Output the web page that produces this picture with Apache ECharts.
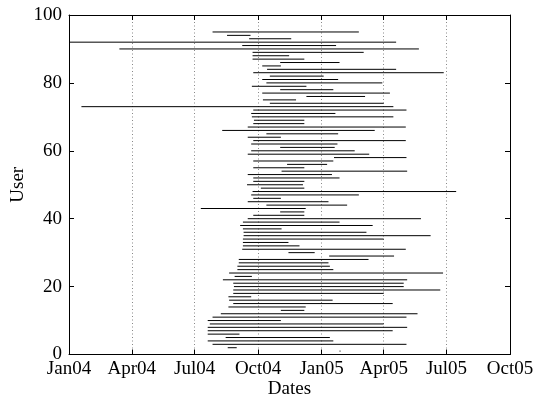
<!DOCTYPE html>
<html>
<head>
<meta charset="utf-8">
<script src="https://cdn.jsdelivr.net/npm/echarts@6/dist/echarts.min.js"></script>
<style>html,body{margin:0;padding:0;background:#fff}#c{width:535px;height:401px}</style>
</head>
<body>
<div id="c"></div>
<script>
// User ids (row index on the y axis)
const users = [];
for (let i = 1; i <= 95; i++) users.push(i);
// Start date of each user's activity (user 1 .. 95)
const starts = [
'2005-01-27','2004-08-18','2004-07-27','2004-07-20','2004-08-15','2004-07-20','2004-07-20','2004-07-20','2004-07-23','2004-07-20',
'2004-07-27','2004-08-08','2004-11-03','2004-08-19','2004-08-26','2004-08-20','2004-08-19','2004-08-26','2004-08-26','2004-08-27',
'2004-08-26','2004-08-11','2004-08-28','2004-08-20','2004-09-01','2004-09-01','2004-09-03','2004-09-03','2005-01-12','2004-11-14',
'2004-09-08','2004-09-09','2004-09-09','2004-09-09','2004-09-10','2004-09-10','2004-09-09','2004-09-05','2004-09-09','2004-09-16',
'2004-09-24','2004-11-02','2004-07-10','2004-10-13','2004-09-16','2004-09-24','2004-09-21','2004-09-23','2004-10-05','2004-09-15',
'2004-09-24','2004-09-24','2004-09-16','2004-11-04','2004-09-24','2004-11-12','2004-09-24','2005-01-19','2004-09-16','2004-09-21',
'2004-11-02','2004-09-21','2004-09-24','2004-09-16','2004-10-13','2004-08-10','2004-09-16','2004-09-24','2004-09-25','2004-09-22',
'2004-09-21','2004-09-24','2004-01-19','2004-10-18','2004-10-08','2004-12-10','2004-10-07','2004-11-02','2004-09-22','2004-10-13',
'2004-10-07','2004-10-18','2004-09-24','2004-10-14','2004-10-07','2004-11-02','2004-09-23','2004-09-23','2004-09-23','2004-03-14',
'2004-09-08','2004-01-01','2004-09-18','2004-08-17','2004-07-27'
];
// End date of each user's activity (user 1 .. 95)
const ends = [
'2005-01-27','2004-08-31','2005-05-04','2005-01-18','2005-01-13','2004-09-04','2005-04-14','2005-05-05','2005-04-01','2004-11-03',
'2005-05-04','2005-05-20','2004-12-07','2004-12-09','2005-04-14','2005-01-17','2004-09-21','2005-04-01','2005-06-22','2005-04-30',
'2005-04-30','2005-05-05','2004-09-22','2005-06-26','2005-01-18','2005-01-13','2005-01-11','2005-03-10','2005-04-16','2004-12-22',
'2005-05-03','2004-11-30','2004-11-14','2005-04-01','2005-06-08','2005-03-07','2004-11-04','2005-03-16','2005-01-27','2005-05-25',
'2004-12-07','2004-12-07','2004-12-09','2005-02-07','2005-01-11','2004-11-03','2005-02-24','2005-07-15','2004-12-07','2004-12-05',
'2004-12-07','2005-01-27','2005-01-16','2005-05-05','2004-12-07','2005-01-09','2005-01-18','2005-05-04','2005-03-11','2005-02-18',
'2005-01-20','2005-01-24','2005-05-03','2004-11-03','2005-01-25','2005-03-19','2005-05-03','2004-12-07','2004-12-07','2005-04-15',
'2005-01-21','2005-05-04','2005-04-15','2005-04-01','2004-11-25','2005-03-05','2005-04-10','2005-01-18','2004-12-10','2005-03-30',
'2005-01-25','2005-01-04','2005-06-27','2005-04-19','2004-11-03','2005-01-27','2004-12-07','2004-11-15','2005-03-03','2005-05-22',
'2005-01-22','2005-04-19','2004-11-18','2004-09-20','2005-02-24'
];
// Axis ranges / ticks
const xMin = '2004-01-01', xMax = '2005-10-01';
const yMin = 0, yMax = 100, yStep = 20;
const monthNames = ['Jan','Feb','Mar','Apr','May','Jun','Jul','Aug','Sep','Oct','Nov','Dec'];

const parse = echarts.number.parseDate;
const data = users.map((u, i) => [parse(starts[i]).getTime(), parse(ends[i]).getTime(), u]);

const FONT = 'Liberation Serif';
const chart = echarts.init(document.getElementById('c'), null, {renderer: 'canvas'});
const axisLine = {show: true, onZero: false, lineStyle: {color: '#000', width: 1}};
const tick = {show: true, inside: true, length: 5, lineStyle: {color: '#000', width: 1}};
chart.setOption({
  animation: false,
  backgroundColor: '#fff',
  grid: {left: 69, right: 25, top: 15, bottom: 46.5, containLabel: false, outerBoundsMode: 'none'},
  xAxis: [{
    type: 'time', position: 'bottom', min: xMin, max: xMax, splitNumber: 7,
    axisLine: axisLine, axisTick: tick,
    axisLabel: {
      color: '#000', fontFamily: FONT, fontSize: 19, margin: 5,
      showMinLabel: true, showMaxLabel: true,
      formatter: function (v) { const d = new Date(v); return monthNames[d.getMonth()] + String(d.getFullYear()).slice(2); }
    },
    splitLine: {show: true, lineStyle: {color: '#888', width: 1, type: [1, 2.5]}},
    name: 'Dates', nameLocation: 'middle', nameGap: 25, nameMoveOverlap: false,
    nameTextStyle: {color: '#000', fontFamily: FONT, fontSize: 19}
  }, {
    type: 'time', position: 'top', min: xMin, max: xMax, splitNumber: 7,
    axisLine: axisLine, axisTick: tick, axisLabel: {show: false}, splitLine: {show: false}
  }],
  yAxis: [{
    type: 'value', position: 'left', min: yMin, max: yMax, interval: yStep,
    axisLine: axisLine, axisTick: tick,
    axisLabel: {color: '#000', fontFamily: FONT, fontSize: 19, margin: 7},
    splitLine: {show: false},
    name: 'User', nameLocation: 'middle', nameGap: 41, nameMoveOverlap: false,
    nameTextStyle: {color: '#000', fontFamily: FONT, fontSize: 19}
  }, {
    type: 'value', position: 'right', min: yMin, max: yMax, interval: yStep,
    axisLine: axisLine, axisTick: tick, axisLabel: {show: false}, splitLine: {show: false}
  }],
  series: [{
    type: 'custom', xAxisIndex: 0, yAxisIndex: 0, clip: true,
    encode: {x: [0, 1], y: 2},
    data: data,
    renderItem: function (params, api) {
      const s = api.coord([api.value(0), api.value(2)]);
      const e = api.coord([api.value(1), api.value(2)]);
      let x2 = e[0];
      if (x2 - s[0] < 1) x2 = s[0] + 1;
      return {type: 'line', shape: {x1: s[0], y1: s[1], x2: x2, y2: e[1]},
        style: {stroke: '#000', lineWidth: 1}};
    }
  }]
});
</script>
</body>
</html>
